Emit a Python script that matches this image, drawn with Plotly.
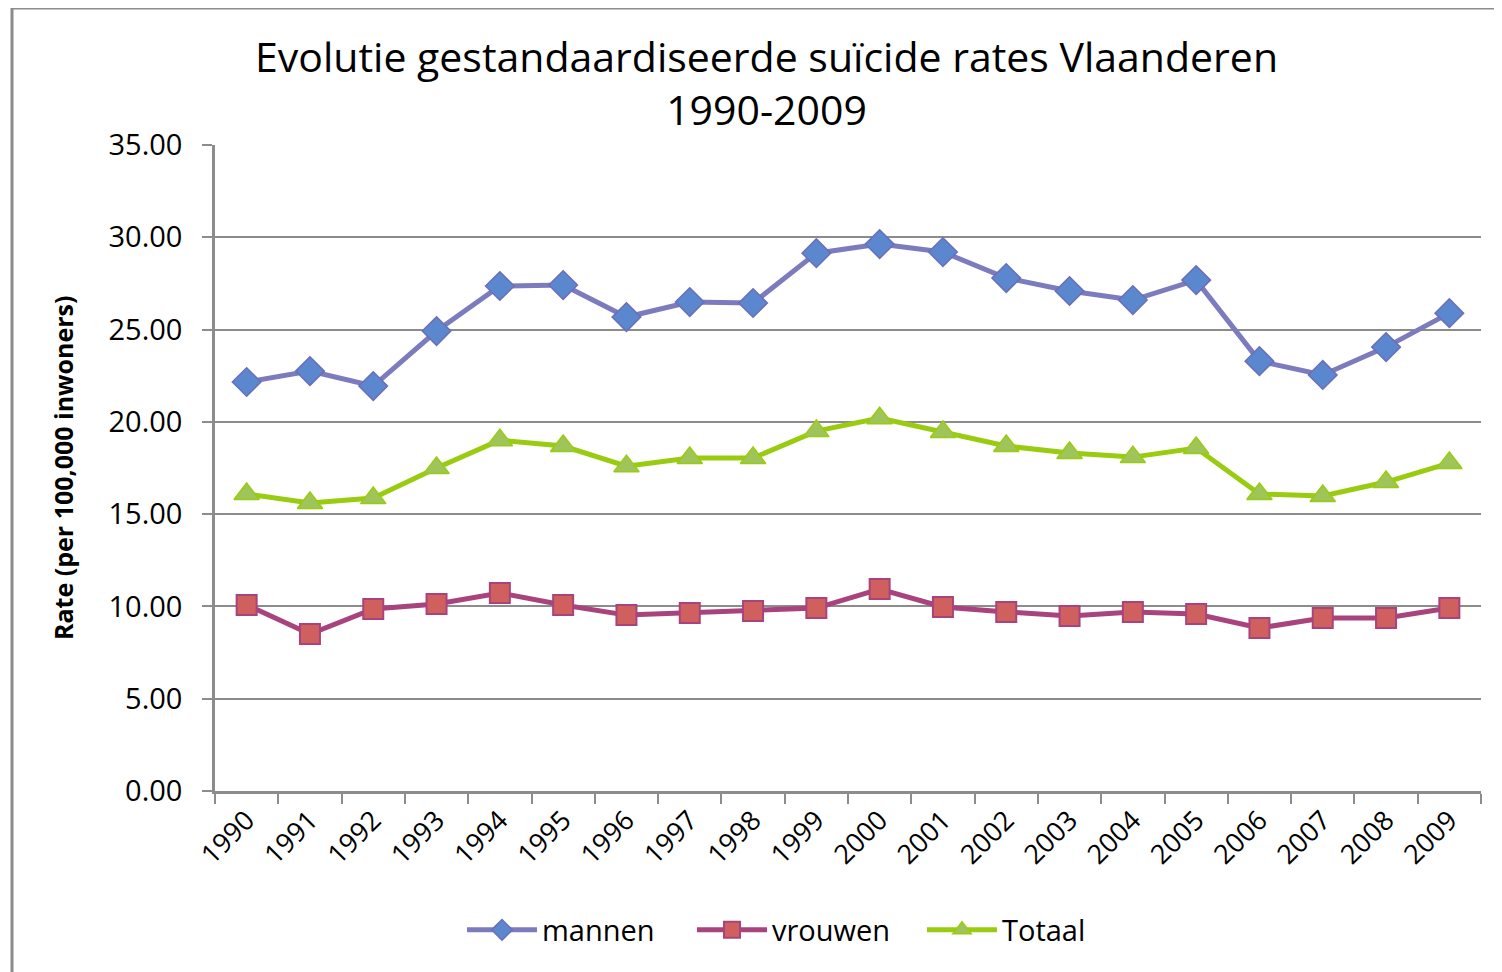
import plotly.graph_objects as go

years = [str(y) for y in range(1990, 2010)]
mannen = [22.16, 22.75, 21.94, 24.92, 27.36, 27.41, 25.68, 26.49, 26.44, 29.14,
          29.63, 29.20, 27.79, 27.09, 26.60, 27.68, 23.29, 22.54, 24.05, 25.89]
vrouwen = [10.08, 8.50, 9.86, 10.13, 10.73, 10.08, 9.53, 9.64, 9.75, 9.91,
           10.94, 9.97, 9.70, 9.48, 9.70, 9.59, 8.83, 9.37, 9.37, 9.91]
totaal = [16.09, 15.60, 15.87, 17.50, 19.01, 18.69, 17.60, 18.04, 18.04, 19.50,
          20.20, 19.45, 18.69, 18.31, 18.09, 18.58, 16.09, 15.98, 16.74, 17.77]
y_ticks = [0, 5, 10, 15, 20, 25, 30, 35]
title_text = "Evolutie gestandaardiseerde suïcide rates Vlaanderen<br>1990-2009"
y_title = "Rate (per 100,000 inwoners)"

FONT = "Open Sans"
fig = go.Figure()
fig.add_trace(go.Scatter(x=years, y=mannen, name="mannen", mode="lines+markers",
                         line=dict(color="#7B7BBE", width=5),
                         marker=dict(symbol="diamond", size=22, color="#5B87CF",
                                     line=dict(color="#6A6FB8", width=1.5))))
fig.add_trace(go.Scatter(x=years, y=vrouwen, name="vrouwen", mode="lines+markers",
                         line=dict(color="#A8437E", width=5),
                         marker=dict(symbol="square", size=20, color="#D0605E",
                                     line=dict(color="#A8437E", width=2))))
fig.add_trace(go.Scatter(x=years, y=totaal, name="Totaal", mode="lines+markers",
                         line=dict(color="#99CC11", width=5),
                         marker=dict(symbol="triangle-up", size=22, color="#9EC45A",
                                     line=dict(color="#99CC11", width=1.5))))

W, H = 1502, 972
L, T = 207, 137
PR, PB = 1473, 783
R, B = W - PR, H - PB
pw, ph = PR - L, PB - T


def px(x):
    return (x - L) / pw


def py(y):
    return 1 - (y - T) / ph


annotations = [
    dict(text=title_text, x=px(758), y=py(74), xref="paper", yref="paper",
         xanchor="center", yanchor="middle", showarrow=False,
         font=dict(size=41, family=FONT, color="black")),
    dict(text="<b>" + y_title + "</b>", x=px(55), y=py(460), xref="paper", yref="paper",
         xanchor="center", yanchor="middle", showarrow=False, textangle=-90,
         font=dict(size=25, family=FONT, color="black")),
]

fig.update_layout(
    width=W, height=H,
    margin=dict(l=L, r=R, t=T, b=B),
    paper_bgcolor="white", plot_bgcolor="white",
    font=dict(family=FONT, color="black"),
    showlegend=True,
    legend=dict(orientation="h", x=799 / W, xanchor="center", xref="container",
                y=1 - 922 / H, yanchor="middle", yref="container",
                font=dict(size=29, family=FONT), itemwidth=70, tracegroupgap=0,
                entrywidth=145, entrywidthmode="pixels"),
    xaxis=dict(type="category", range=[-0.5, 19.5], tickangle=-45,
               tickfont=dict(size=27), ticks="outside", tickson="boundaries",
               ticklen=10, tickwidth=2, tickcolor="#8C8C8C",
               showline=True, linecolor="#8C8C8C", linewidth=2.5,
               showgrid=False, zeroline=False),
    yaxis=dict(range=[0, 35], tickvals=y_ticks, tickformat=".2f",
               tickfont=dict(size=29), ticks="outside", ticklen=10, tickwidth=2,
               ticklabelstandoff=14,
               tickcolor="#8C8C8C", showline=True, linecolor="#8C8C8C", linewidth=2.5,
               showgrid=True, gridcolor="#8C8C8C", gridwidth=2, zeroline=False),
    annotations=annotations,
    shapes=[dict(type="rect", xref="paper", yref="paper",
                 x0=px(4), x1=px(W + 20), y0=py(H + 20), y1=py(0),
                 line=dict(color="#8C8C8C", width=3), layer="below")],
)

fig.write_html("out.html")
